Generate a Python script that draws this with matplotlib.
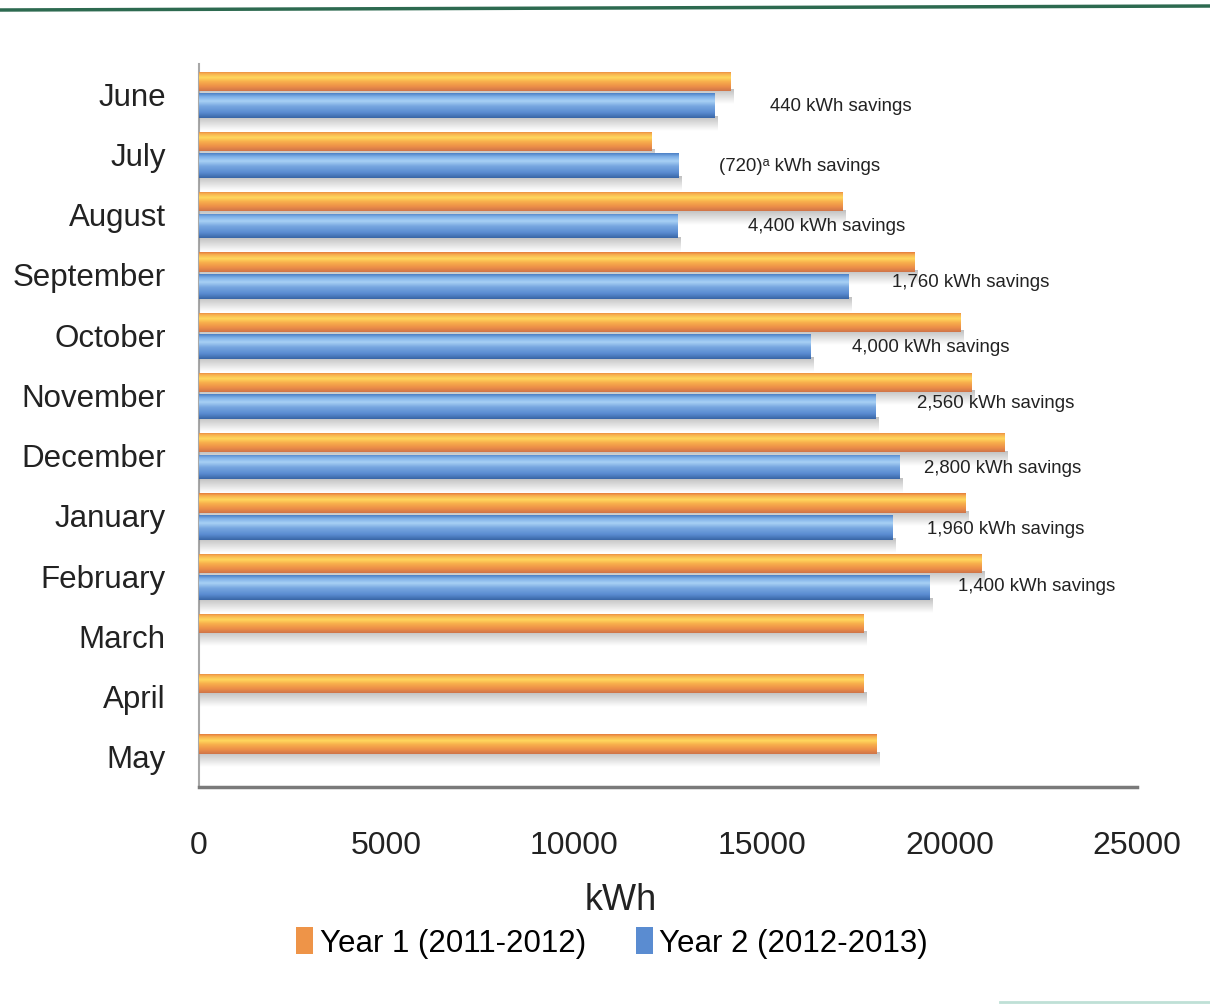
import numpy as np
import matplotlib
matplotlib.use("Agg")
import matplotlib.pyplot as plt
from matplotlib import font_manager as fm
from matplotlib.patches import Patch
from matplotlib.lines import Line2D
from matplotlib.colors import to_rgb

# ---- data ---------------------------------------------------------------
months = ["June", "July", "August", "September", "October", "November",
          "December", "January", "February", "March", "April", "May"]
year1_kwh = [14170, 12060, 17160, 19070, 20300, 20580, 21460, 20440, 20860,
             17720, 17720, 18060]
year2_kwh = [13730, 12780, 12760, 17310, 16300, 18020, 18660, 18480, 19460]
savings_text = ["440 kWh savings", "(720)\u1d43 kWh savings", "4,400 kWh savings",
                "1,760 kWh savings", "4,000 kWh savings", "2,560 kWh savings",
                "2,800 kWh savings", "1,960 kWh savings", "1,400 kWh savings"]
x_ticks = [0, 5000, 10000, 15000, 20000, 25000]
series_names = ["Year 1 (2011-2012)", "Year 2 (2012-2013)"]

# where each savings note sits (x in kWh, y offset from the month row)
note_x = [15220, 13860, 14620, 18480, 17410, 19140, 19330, 19400, 20240]
note_dy = [0.21, 0.20, 0.19, 0.13, 0.20, 0.13, 0.22, 0.23, 0.18]


def pick(names):
    for n in names:
        try:
            fm.findfont(fm.FontProperties(family=n), fallback_to_default=False)
            return n
        except ValueError:
            pass
    return "DejaVu Sans"


label_font = pick(["Liberation Sans", "Arial"])
note_font = [pick(["Liberation Sans", "Arial"]), "DejaVu Sans"]


def gradient(stops, n=64):
    pos = [p for p, _ in stops]
    cols = np.array([to_rgb(c) for _, c in stops])
    t = np.linspace(0, 1, n)
    rgb = np.stack([np.interp(t, pos, cols[:, k]) for k in range(3)], axis=1)
    return rgb[:, None, :]


orange_grad = gradient([(0.0, "#E47C3C"), (0.12, "#F6AE4E"), (0.32, "#FFD85E"),
                        (0.52, "#F8B04C"), (0.78, "#EC8E48"), (1.0, "#CF7449")])
blue_grad = gradient([(0.0, "#4C80C6"), (0.14, "#7FB0E8"), (0.32, "#A8D1F5"),
                      (0.52, "#78A7E0"), (0.78, "#5A8CD1"), (1.0, "#3966A6")])

shadow = np.zeros((32, 1, 4))
shadow[..., :3] = 0.55
shadow[:, 0, 3] = np.linspace(0.55, 0.0, 32)

fig = plt.figure(figsize=(12.1, 10.05), dpi=100)
fig.patch.set_facecolor("white")
ax = fig.add_axes([199 / 1210, 218 / 1005, 938 / 1210, 723 / 1005])

y = np.arange(len(months))
off1, h1 = -0.215, 0.32
off2, h2 = 0.19, 0.41


def draw_series(values, offset, height, grad, z):
    pos = y[:len(values)] + offset
    bars = ax.barh(pos, values, height=height, color="none", edgecolor="none",
                   zorder=z)
    for bar in bars:
        x0, yb, w, hh = bar.get_x(), bar.get_y(), bar.get_width(), bar.get_height()
        # soft drop shadow under the bar
        ax.imshow(shadow, extent=(x0, x0 + w + 80, yb + hh + 0.22, yb + hh - 0.02),
                  aspect="auto", interpolation="bilinear", zorder=z - 0.5)
        im = ax.imshow(grad, extent=(x0, x0 + w, yb + hh, yb),
                       aspect="auto", interpolation="bilinear", zorder=z)
        im.set_clip_path(bar)
    return bars


draw_series(year1_kwh, off1, h1, orange_grad, 3)
draw_series(year2_kwh, off2, h2, blue_grad, 4)

for i, txt in enumerate(savings_text):
    ax.text(note_x[i], y[i] + note_dy[i], txt, fontsize=13.4, family=note_font,
            color="#222222", va="center", ha="left", zorder=6)

ax.set_xlim(0, 25000)
ax.set_ylim(len(months) - 0.5, -0.5)
ax.set_xticks(x_ticks)
ax.set_xticklabels([str(v) for v in x_ticks], fontsize=23, family=label_font,
                   color="#222222")
ax.set_yticks(y)
ax.set_yticklabels(months, fontsize=22.5, family=label_font, color="#222222")
ax.tick_params(axis="x", length=0, pad=32)
ax.tick_params(axis="y", length=0, pad=24)

ax.set_xlabel("kWh", fontsize=26, family=label_font, color="#222222")
ax.xaxis.set_label_coords((621 - 199) / 938, (787 - 900) / 723)
ax.xaxis.label.set_va("center")

for s in ("top", "right"):
    ax.spines[s].set_visible(False)
ax.spines["left"].set_color("#A8A8A8")
ax.spines["left"].set_linewidth(1.5)
ax.spines["bottom"].set_color("#7A7A7A")
ax.spines["bottom"].set_linewidth(2.5)

handles = [Patch(facecolor="#EE9448", edgecolor="none"),
           Patch(facecolor="#5A8CD1", edgecolor="none")]
fig.legend(handles, series_names, loc="center",
           bbox_to_anchor=(612 / 1210, 1 - 943 / 1005), ncol=2, frameon=False,
           prop={"family": label_font, "size": 22.5}, handlelength=0.55,
           handleheight=0.95, handletextpad=0.2, columnspacing=1.6)

# frame rules at the top and bottom edge of the page
fig.add_artist(Line2D([0, 1], [1 - 10 / 1005, 1 - 6 / 1005], color="#2D6A50",
                      lw=2.5, transform=fig.transFigure))
fig.add_artist(Line2D([1000 / 1210, 1], [1 - 1002 / 1005, 1 - 1002 / 1005],
                      color="#BFE0D6", lw=2, transform=fig.transFigure))

fig.savefig("out.png", dpi=100, facecolor="white")
